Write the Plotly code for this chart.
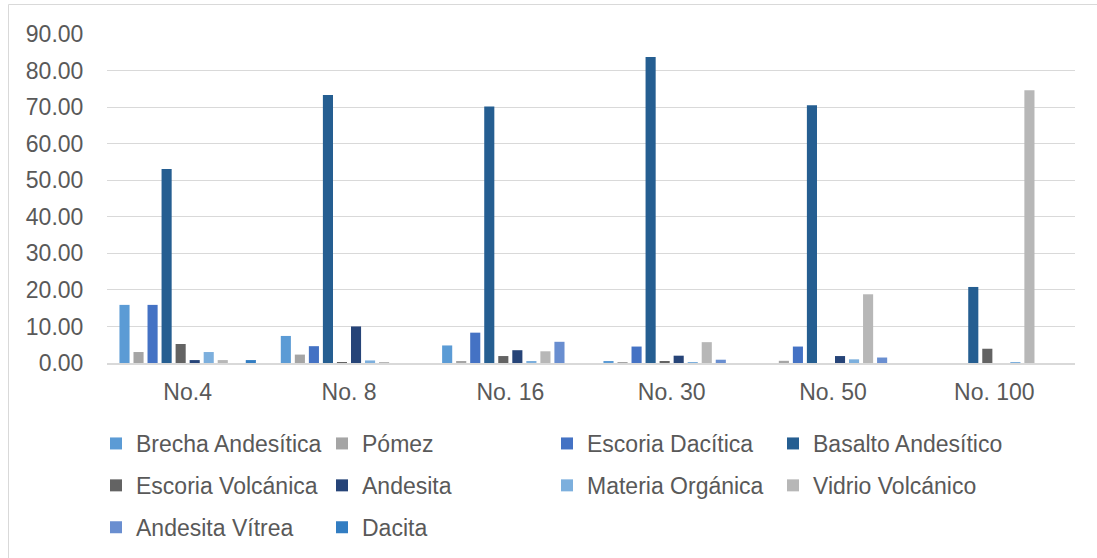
import plotly.graph_objects as go

categories = ["No.4", "No. 8", "No. 16", "No. 30", "No. 50", "No. 100"]

brecha_andesitica = [15.9, 7.4, 4.8, 0.5, 0.0, 0.0]
pomez = [3.0, 2.3, 0.5, 0.1, 0.6, 0.0]
escoria_dacitica = [15.9, 4.6, 8.3, 4.5, 4.5, 0.0]
basalto_andesitico = [53.1, 73.3, 70.2, 83.7, 70.5, 20.8]
escoria_volcanica = [5.2, 0.1, 1.9, 0.5, 0.0, 3.9]
andesita = [0.8, 10.0, 3.5, 2.0, 1.9, 0.0]
materia_organica = [3.0, 0.7, 0.5, 0.2, 1.0, 0.2]
vidrio_volcanico = [0.8, 0.1, 3.2, 5.7, 18.8, 74.6]
andesita_vitrea = [0.0, 0.0, 5.8, 0.9, 1.5, 0.0]
dacita = [0.8, 0.0, 0.0, 0.0, 0.0, 0.0]

y_ticks = [0, 10, 20, 30, 40, 50, 60, 70, 80, 90]

# (name, values, colour, legend column)
series = [
    ("Brecha Andesítica", brecha_andesitica, "#5B9BD5", "legend"),
    ("Pómez", pomez, "#A5A5A5", "legend2"),
    ("Escoria Dacítica", escoria_dacitica, "#4472C4", "legend3"),
    ("Basalto Andesítico", basalto_andesitico, "#255E91", "legend4"),
    ("Escoria Volcánica", escoria_volcanica, "#636363", "legend"),
    ("Andesita", andesita, "#264478", "legend2"),
    ("Materia Orgánica", materia_organica, "#7CAFDD", "legend3"),
    ("Vidrio Volcánico", vidrio_volcanico, "#B7B7B7", "legend4"),
    ("Andesita Vítrea", andesita_vitrea, "#698ED0", "legend"),
    ("Dacita", dacita, "#327DC2", "legend2"),
]

W, H = 1097, 558
L, R, T, B = 107, 22, 34, 195
pw, ph = W - L - R, H - T - B

def px_x(px):
    return (px - L) / pw

def px_y(py):
    return (H - B - py) / ph

fig = go.Figure()
for name, vals, color, lg in series:
    fig.add_trace(go.Bar(name=name, x=categories, y=vals, marker_color=color,
                         marker_line_width=0, legend=lg, legendgroup=name))

font = dict(family="Liberation Sans, Arial, sans-serif", size=23, color="#595959")
leg_common = dict(orientation="v", xanchor="left", yanchor="top", y=px_y(422),
                  font=font, bgcolor="rgba(0,0,0,0)", traceorder="grouped",
                  tracegroupgap=9)

fig.update_layout(
    width=W, height=H,
    margin=dict(l=L, r=R, t=T, b=B, autoexpand=False),
    paper_bgcolor="white", plot_bgcolor="white",
    font=font,
    barmode="group", bargap=0.13, bargroupgap=0.28,
    legend=dict(x=px_x(96), **leg_common),
    legend2=dict(x=px_x(322), **leg_common),
    legend3=dict(x=px_x(547), **leg_common),
    legend4=dict(x=px_x(773), **leg_common),
    xaxis=dict(showgrid=False, showline=True, linecolor="#D9D9D9", linewidth=1.5,
               ticks="outside", ticklen=8, tickcolor="rgba(0,0,0,0)",
               tickfont=font),
    yaxis=dict(range=[0, 90], tickvals=y_ticks, tickformat=".2f",
               showgrid=True, gridcolor="#D9D9D9", gridwidth=1.3,
               zeroline=False, showline=False,
               ticks="outside", ticklen=18, tickcolor="rgba(0,0,0,0)",
               tickfont=font),
    shapes=[dict(type="rect", xref="paper", yref="paper",
                 x0=px_x(8.5), x1=px_x(1100), y0=px_y(560), y1=px_y(4.5),
                 line=dict(color="#D9D9D9", width=1), fillcolor="rgba(0,0,0,0)",
                 layer="below")],
)

fig.write_html("out.html")
